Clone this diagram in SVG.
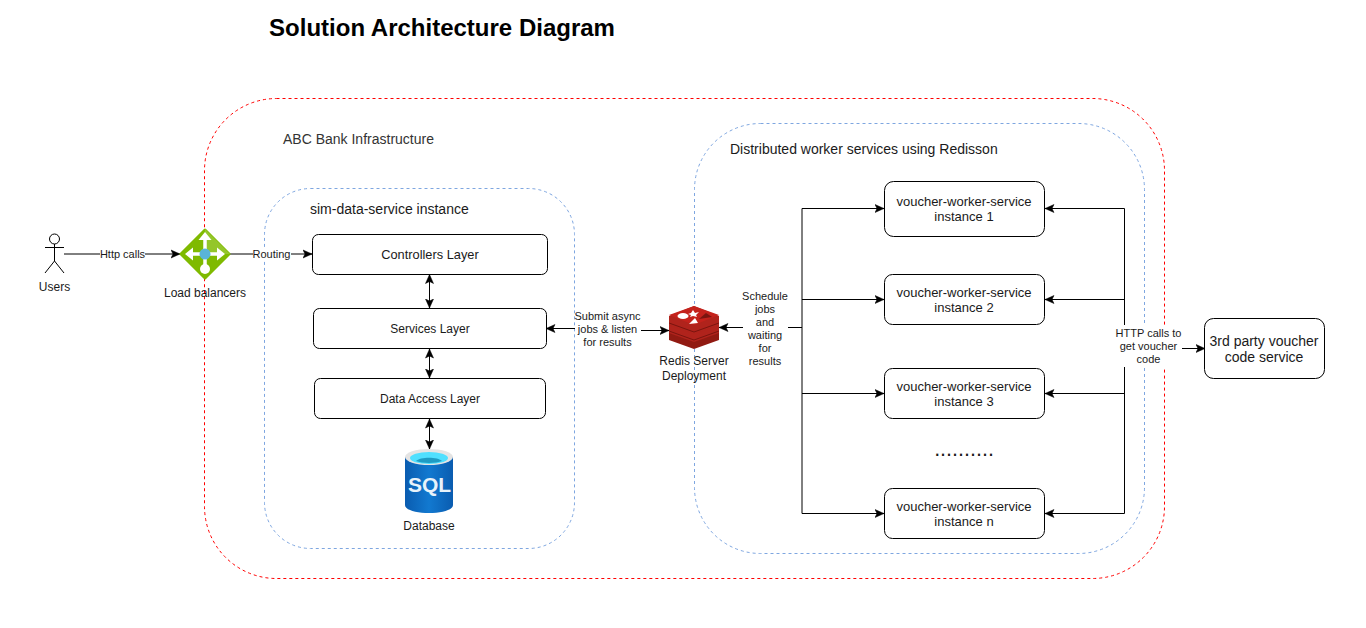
<svg xmlns="http://www.w3.org/2000/svg" width="1366" height="628" viewBox="0 0 1366 628">
<style>
text{font-family:"Liberation Sans",Arial,sans-serif;fill:#1a1a1a;text-anchor:middle}
.t13{font-size:13px}.t12{font-size:12px}.t11{font-size:11px}.t14{font-size:14px;text-anchor:start}
.box{fill:#fff;stroke:#000;stroke-width:1}
.red{fill:none;stroke:#ff0000;stroke-dasharray:3 3}
.blue{fill:none;stroke:#7ea6e0;stroke-dasharray:3 3}
.c{fill:none;stroke:#000;stroke-width:1}
.e{marker-end:url(#a)}.s{marker-start:url(#as)}
.lab{fill:#fff;stroke:none}
</style>
<defs>
<marker id="a" markerUnits="userSpaceOnUse" markerWidth="12" markerHeight="12" refX="9" refY="5" orient="auto"><path d="M0 1 L9 5 L0 9 L2 5Z" fill="#000" stroke="#000" stroke-width="0.5"/></marker>
<marker id="as" markerUnits="userSpaceOnUse" markerWidth="12" markerHeight="12" refX="0" refY="5" orient="auto"><path d="M9 1 L0 5 L9 9 L7 5Z" fill="#000" stroke="#000" stroke-width="0.5"/></marker>
<linearGradient id="sq" x1="0" x2="1" y1="0" y2="0"><stop offset="0" stop-color="#0a5cb0"/><stop offset="0.5" stop-color="#1279d0"/><stop offset="1" stop-color="#0a5cb0"/></linearGradient>
</defs>
<rect width="1366" height="628" fill="#fff"/>
<text x="442" y="36" style="font-size:24px;font-weight:bold;fill:#000">Solution Architecture Diagram</text>
<g id="abc-bank"><rect class="red" x="204.500" y="98.500" width="960" height="480" rx="72"/><text x="283" y="144" class="t14" style="fill:#333">ABC Bank Infrastructure</text></g>
<g id="sim-data-service"><rect class="blue" x="264.500" y="188.500" width="310" height="360" rx="46"/><text x="310" y="214" class="t14">sim-data-service instance</text></g>
<g id="workers"><rect class="blue" x="694.500" y="123.500" width="450" height="430" rx="66"/><text x="730" y="154" class="t14">Distributed worker services using Redisson</text></g>
<g id="connectors">
<path class="c e" d="M64 254H180"/>
<path class="c e" d="M230 254H312"/>
<path class="c e s" d="M429.500 274.500V308"/>
<path class="c e s" d="M429.500 349V378"/>
<path class="c e s" d="M429.500 419V449"/>
<path class="c s" d="M546 328.500H575"/><path class="c e" d="M641 330.500H669"/>
<path class="c s" d="M719 327.500H743"/><path class="c" d="M788 327.500H802"/>
<path class="c" d="M802 208.500V513.500" stroke-width="1.300"/>
<path class="c e" d="M802 208.500H884"/><path class="c e" d="M802 299.500H884"/><path class="c e" d="M802 393.500H884"/><path class="c e" d="M802 513.500H884"/>
<path class="c" d="M1124.500 208.500V513.500"/>
<path class="c s" d="M1045 208.500H1124.500"/><path class="c s" d="M1045 299.500H1124.500"/><path class="c s" d="M1045 393.500H1124.500"/><path class="c s" d="M1045 513.500H1124.500"/>
<path class="c e" d="M1182 348.500H1205"/>
</g>
<g id="users"><circle cx="54.500" cy="239" r="5" fill="#fff" stroke="#000"/><path class="c" d="M54.500 244V261M45 247.500H64M54.500 261L45 273M54.500 261L64 273"/><text x="54.500" y="291" class="t12">Users</text></g>
<g id="http-label"><rect class="lab" x="100" y="248" width="45" height="13"/><text x="122.500" y="258" class="t11">Http calls</text></g>
<g id="load-balancer"><path d="M205 230 L229 254 L205 278 L181 254Z" fill="#7fba00" stroke="#7fba00" stroke-width="3" stroke-linejoin="round"/><path d="M205 229 L230 254 L205 254Z" fill="#94c62a"/>
<path d="M205 238V265M190 254H220" stroke="#fff" stroke-width="3.500"/><path d="M205 232l-6.500 8h13zM185 254l8-6.500v13zM225 254l-8-6.500v13z" fill="#fff"/><circle cx="205" cy="269" r="5" fill="#fff"/><circle cx="205" cy="254" r="5.500" fill="#59b4d9"/>
<text x="205" y="297" class="t12">Load balancers</text></g>
<g id="routing-label"><rect class="lab" x="253" y="248" width="38" height="13"/><text x="271.500" y="258" class="t11">Routing</text></g>
<g id="controllers"><rect class="box" x="312.500" y="234.500" width="235" height="40" rx="6"/><text x="430" y="259" class="t13" style="font-size:12.800px">Controllers Layer</text></g>
<g id="services"><rect class="box" x="313.500" y="308.500" width="233" height="40" rx="6"/><text x="430" y="333" class="t12">Services Layer</text></g>
<g id="data-access"><rect class="box" x="314.500" y="378.500" width="231" height="40" rx="6"/><text x="430" y="403" class="t12">Data Access Layer</text></g>
<g id="database"><path d="M405 457V505C405 510 416 513 429 513C442 513 453 510 453 505V457Z" fill="url(#sq)"/><ellipse cx="429" cy="457" rx="24" ry="8" fill="#e4e4e4"/><ellipse cx="429" cy="458" rx="19" ry="6" fill="#50e0ff"/><path d="M416 461C420 456.500 438 456.500 442 461C436 463.500 422 463.500 416 461Z" fill="#1f9cc4"/>
<text x="429.500" y="492" style="font-size:21px;font-weight:bold;fill:#e8f2fa">SQL</text><text x="429" y="530" class="t12">Database</text></g>
<g id="submit-label"><text x="607.500" y="320" class="t11">Submit async</text><text x="607.500" y="333" class="t11">jobs &amp; listen</text><text x="607.500" y="346" class="t11">for results</text></g>
<g id="redis"><path d="M669 331V340L694 349L719 340V331Z" fill="#911a12"/><path d="M669 324V333L694 342L719 333V324Z" fill="#b0231c"/><path d="M669 331L694 340L719 331" fill="none" stroke="#7a140e"/><path d="M669 316V325L694 334L719 325V316L694 306Z" fill="#b0231c"/><path d="M669 323L694 332L719 323" fill="none" stroke="#7a140e"/><path d="M669 315L694 306L719 315L694 325Z" fill="#c4221c"/>
<ellipse cx="683" cy="316" rx="5.500" ry="3" fill="#fff"/><path d="M691 313l2-3 2 3 4-1-3 3 1 2-4-1-3 1 1-2-3-1z" fill="#fff"/><path d="M699 319l7-6 6 4z" fill="#7a1510"/><path d="M689 324l9-1-3-5z" fill="#fff"/>
<text x="694" y="365" class="t12">Redis Server</text><text x="694" y="380" class="t12">Deployment</text></g>
<g id="schedule-label"><text x="765" y="300" class="t11">Schedule</text><text x="765" y="313" class="t11">jobs</text><text x="765" y="326" class="t11">and</text><text x="765" y="339" class="t11">waiting</text><text x="765" y="352" class="t11">for</text><text x="765" y="365" class="t11">results</text></g>
<g id="worker-1"><rect class="box" x="884.500" y="181.500" width="160" height="55" rx="9"/><text x="964" y="206" class="t13">voucher-worker-service</text><text x="964" y="221" class="t13">instance 1</text></g>
<g id="worker-2"><rect class="box" x="884.500" y="274.500" width="160" height="50" rx="8"/><text x="964" y="297" class="t13">voucher-worker-service</text><text x="964" y="312" class="t13">instance 2</text></g>
<g id="worker-3"><rect class="box" x="884.500" y="368.500" width="160" height="50" rx="8"/><text x="964" y="391" class="t13">voucher-worker-service</text><text x="964" y="406" class="t13">instance 3</text></g>
<text id="dots" x="964" y="456" style="font-size:21.500px">..........</text>
<g id="worker-n"><rect class="box" x="884.500" y="488.500" width="160" height="50" rx="8"/><text x="964" y="511" class="t13">voucher-worker-service</text><text x="964" y="526" class="t13">instance n</text></g>
<g id="http-calls-label"><rect class="lab" x="1114" y="325" width="68" height="42"/><text x="1148.500" y="337" class="t11">HTTP calls to</text><text x="1148.500" y="350" class="t11">get voucher</text><text x="1148.500" y="363" class="t11">code</text></g>
<g id="third-party"><rect class="box" x="1204.500" y="318.500" width="120" height="60" rx="9"/><text x="1264" y="346" style="font-size:14px">3rd party voucher</text><text x="1264" y="362" style="font-size:14px">code service</text></g>
</svg>
